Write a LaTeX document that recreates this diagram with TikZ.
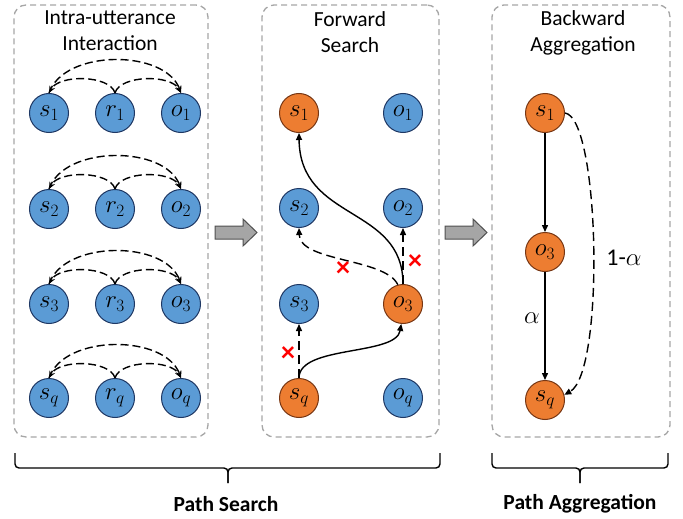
\documentclass[tikz,border=0pt]{standalone}
\usepackage{fontspec}
\setmainfont{Carlito}
\usetikzlibrary{arrows.meta}
\definecolor{nblue}{RGB}{91,155,213}
\definecolor{nblueb}{RGB}{31,56,100}
\definecolor{norange}{RGB}{237,125,49}
\definecolor{norangeb}{RGB}{120,55,20}
\definecolor{panelgray}{RGB}{166,166,166}
\definecolor{arrfill}{RGB}{165,165,165}
\definecolor{arrborder}{RGB}{80,80,80}
\definecolor{xred}{RGB}{255,0,0}
\begin{document}
\begin{tikzpicture}[x=1pt,y=-1pt,
  bn/.style={circle, draw=nblueb, fill=nblue, line width=1pt, minimum size=39pt, inner sep=0pt, font=\fontsize{24}{28}\selectfont},
  orn/.style={bn, draw=norangeb, fill=norange},
  panel/.style={draw=panelgray, dash pattern=on 6pt off 4pt, line width=1.3pt, rounded corners=12pt, inner sep=0pt},
  ttl/.style={font=\fontsize{21.5}{26}\selectfont, align=center},
  ldash/.style={line width=1.4pt, dash pattern=on 8pt off 4pt, -{Stealth[length=7pt,width=6pt]}},
  solid arr/.style={line width=1.4pt, -{Triangle[length=7pt,width=6pt]}},
  dash arr/.style={line width=1.4pt, dash pattern=on 9pt off 5pt, -{Triangle[length=7pt,width=6pt]}},
  xmark/.style={text=xred, font=\fontsize{28}{28}\bfseries\selectfont, inner sep=0pt},
  blockarrow/.style={fill=arrfill, draw=arrborder, line width=1pt, line join=miter},
  bracepath/.style={line width=1.4pt, rounded corners=4pt},
  bottomlbl/.style={font=\fontsize{21.5}{24}\bfseries\selectfont},
  elbl/.style={font=\fontsize{24}{28}\selectfont}
]
\useasboundingbox (0,0) rectangle (683,519);

% panels
\node[panel, minimum width=194pt, minimum height=432pt] (P1) at (111,221) {};
\node[panel, minimum width=177pt, minimum height=432pt] (P2) at (350.5,221) {};
\node[panel, minimum width=178pt, minimum height=432pt] (P3) at (581,221) {};

% titles
\node[ttl] (T1) at (110,31) {Intra-utterance\\Interaction};
\node[ttl] (T2) at (350,32) {Forward\\Search};
\node[ttl] (T3) at (583,33) {Backward\\Aggregation};

% left panel
\foreach \yy/\i in {113/1,209/2,304/3,398/q} {
  \node[bn] (Ls\i) at (49,\yy) {$s_{\i}$};
  \node[bn] (Lr\i) at (115,\yy) {$r_{\i}$};
  \node[bn] (Lo\i) at (181,\yy) {$o_{\i}$};
  \draw[ldash] (Lr\i.north) .. controls ++(-5,-18) and ++(10,-19) .. (Ls\i.north);
  \draw[ldash] (Lr\i.north) .. controls ++(5,-18) and ++(-10,-19) .. (Lo\i.north);
  \draw[ldash] (Ls\i.north) .. controls ++(15,-44) and ++(-16,-44) .. (Lo\i.north);
}

% middle panel
\node[orn] (Ms1) at (299,113) {$s_1$};
\node[bn]  (Mo1) at (403,113) {$o_1$};
\node[bn]  (Ms2) at (299,208) {$s_2$};
\node[bn]  (Mo2) at (403,208) {$o_2$};
\node[bn]  (Ms3) at (299,304) {$s_3$};
\node[orn] (Mo3) at (403,304) {$o_3$};
\node[orn] (Msq) at (299,398) {$s_q$};
\node[bn]  (Moq) at (403,398) {$o_q$};

\draw[solid arr] (Mo3.north) .. controls (403,205) and (300,222) .. (Ms1.south);
\draw[dash arr] (Mo3.north) -- (Mo2.south);
\draw[dash arr] (Mo3.105) .. controls (385,258) and (300,262) .. (Ms2.south);
\draw[dash arr] (Msq.north) -- (Ms3.south);
\draw[solid arr] (Msq.north) .. controls (299,345) and (396,356) .. (Mo3.-95);

\node[xmark] (X1) at (288,354) {×};
\node[xmark] (X2) at (415,262) {×};
\node[xmark] (X3) at (343,269) {×};

% right panel
\node[orn] (Rs1) at (545,113) {$s_1$};
\node[orn] (Ro3) at (545,252) {$o_3$};
\node[orn] (Rsq) at (545,400) {$s_q$};
\draw[solid arr] (Rs1.south) -- (Ro3.north);
\draw[solid arr] (Ro3.south) -- (Rsq.north);
\draw[dash arr] (Rs1.east) .. controls (600,118) and (605,372) .. (Rsq.15);
\node[elbl] (La) at (532,318) {$\alpha$};
\node[elbl] (Lb) at (624,258) {1-$\alpha$};

% block arrows
\draw[blockarrow] (215,226) -- (243,226) -- (243,219) -- (257,232.5) -- (243,246) -- (243,239) -- (215,239) -- cycle;
\draw[blockarrow] (445,226) -- (473,226) -- (473,219) -- (487,232.5) -- (473,246) -- (473,239) -- (445,239) -- cycle;

% braces
\draw[bracepath] (15,453) -- (15,468) -- (228,468) -- (228,483);
\draw[bracepath] (440,453) -- (440,468) -- (228,468) -- (228,483);
\draw[bracepath] (492,453) -- (492,468) -- (580,468) -- (580,483);
\draw[bracepath] (668,453) -- (668,468) -- (580,468) -- (580,483);

\node[bottomlbl] (B1) at (226,504) {Path Search};
\node[bottomlbl] (B2) at (580,504) {Path Aggregation};
\end{tikzpicture}
\end{document}
